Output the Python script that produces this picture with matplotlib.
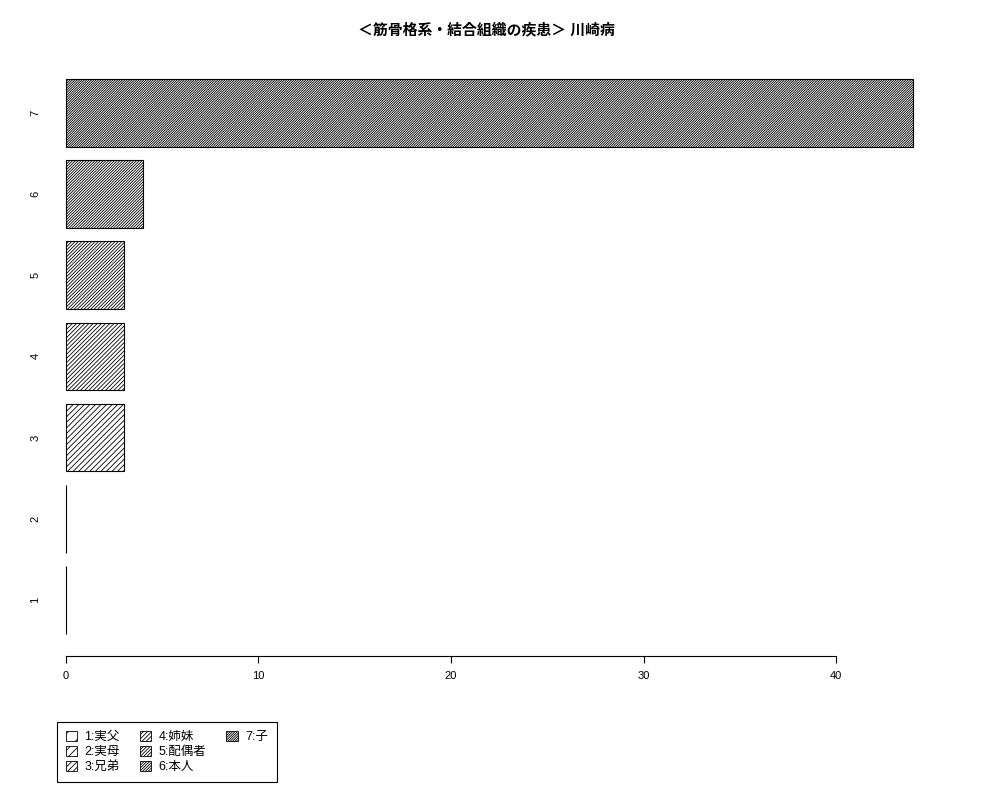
import matplotlib.pyplot as plt
from matplotlib.patches import Patch

plt.rcParams['font.family'] = ['Liberation Sans', 'Noto Sans CJK JP', 'DejaVu Sans']
plt.rcParams['hatch.linewidth'] = 0.6

# data
categories = ['1', '2', '3', '4', '5', '6', '7']
values = [0, 0, 3, 3, 3, 4, 44]
legend_labels = ['1:実父', '2:実母', '3:兄弟', '4:姉妹', '5:配偶者', '6:本人', '7:子']
title = '＜筋骨格系・結合組織の疾患＞ 川崎病'

# R style bar positions (width 1, space 0.2)
pos = [0.7 + 1.2 * i for i in range(len(values))]
# hatch density grows with the category number
hatches = ['/' * (2 * (i + 1)) for i in range(len(values))]

fig = plt.figure(figsize=(10, 8), dpi=100)
ax = fig.add_axes([0.032, 0.18, 0.915, 0.749])

for p, v, h in zip(pos, values, hatches):
    ax.barh(p, v, height=1.0, left=0, facecolor='white', edgecolor='black',
            linewidth=0.8, hatch=h)

ax.set_xlim(-1.76, 45.76)
ax.set_ylim(-0.128, 8.728)

for s in ['top', 'right', 'left']:
    ax.spines[s].set_visible(False)
ax.spines['bottom'].set_bounds(0, 40)
ax.spines['bottom'].set_linewidth(0.8)

ax.set_xticks([0, 10, 20, 30, 40])
ax.tick_params(axis='x', length=5, width=0.8, pad=6, labelsize=8)
ax.set_yticks(pos)
ax.set_yticklabels(categories, rotation=90, va='center')
ax.tick_params(axis='y', length=0, pad=-6, labelsize=8)

fig.text(0.486, 0.962, title, ha='center', va='center', fontsize=10.7, fontweight='bold')

# legend: R fills 3 rows per column, so pad the last column with blanks
handles = [Patch(facecolor='white', edgecolor='black', linewidth=0.6, hatch=h) for h in hatches]
labels = list(legend_labels)
for _ in range(2):
    handles.append(Patch(facecolor='none', edgecolor='none'))
    labels.append('')
leg = fig.legend(handles, labels, ncol=3, loc='lower left',
                 bbox_to_anchor=(0.057, 0.0225), borderaxespad=0, fontsize=9,
                 handlelength=0.9, handleheight=0.9, handletextpad=0.6,
                 columnspacing=1.6, labelspacing=0.2, borderpad=0.7,
                 fancybox=False, edgecolor='black', framealpha=1)
leg.get_frame().set_linewidth(0.8)

fig.savefig('out.png', dpi=100)
